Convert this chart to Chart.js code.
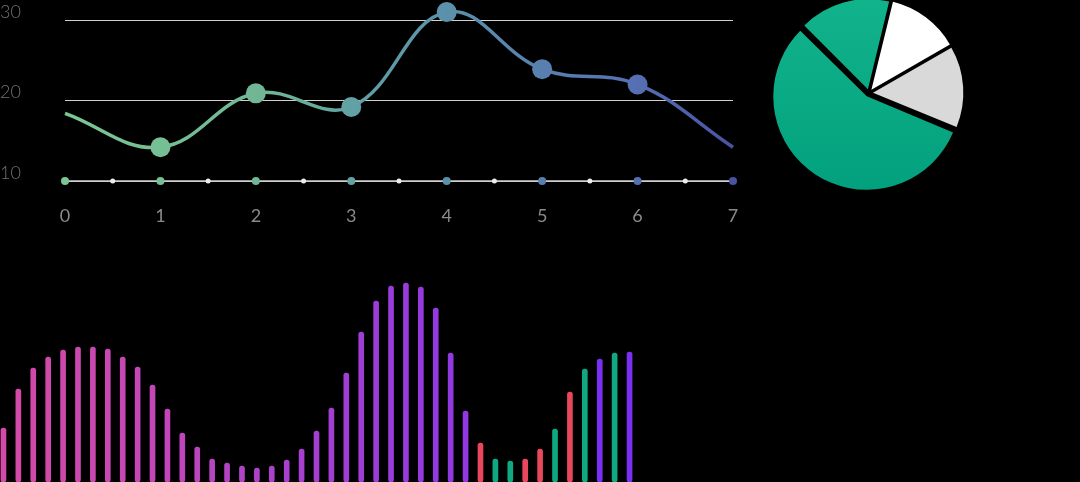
<!DOCTYPE html>
<html><head><meta charset="utf-8">
<script src="https://cdn.jsdelivr.net/npm/chart.js@4.4.1/dist/chart.umd.min.js"></script>
<style>
html,body{margin:0;padding:0;background:#000;width:1080px;height:482px;overflow:hidden;}
.box{position:absolute;}
</style></head><body>
<div class="box" style="left:0;top:0;width:760px;height:240px"><canvas id="line"></canvas></div>
<div class="box" style="left:758.5px;top:-11.8px;width:220px;height:210px"><canvas id="pie"></canvas></div>
<div class="box" style="left:-4.45px;top:270px;width:641px;height:212px"><canvas id="bars"></canvas></div>
<script>
// ---- line chart data ----
const lineX = [0, 1, 2, 3, 4, 5, 6, 7];
const lineValues = [18.4, 14.2, 20.9, 19.2, 31.0, 23.9, 22.0, 14.2];
const baseX = [0, 0.5, 1, 1.5, 2, 2.5, 3, 3.5, 4, 4.5, 5, 5.5, 6, 6.5, 7];
const baseValues = [10, 10, 10, 10, 10, 10, 10, 10, 10, 10, 10, 10, 10, 10, 10];
const yTickValues = [10, 20, 30];
const xTickLabels = ['0', '1', '2', '3', '4', '5', '6', '7'];

// ---- pie data ----
const pieLabels = ['A', 'B', 'C', 'D'];
const pieValues = [16.3, 12.9, 14.5, 56.3];

// ---- bar data ----
const barLabels = ['1','2','3','4','5','6','7','8','9','10','11','12','13','14','15','16','17','18','19','20','21','22','23','24','25','26','27','28','29','30','31','32','33','34','35','36','37','38','39','40','41','42','43'];
const barValues = [54, 93, 114, 125, 132, 135, 135, 133, 125, 115, 97, 73, 49, 35, 23, 19, 16, 14, 16, 22, 33, 51, 74, 109, 150, 181, 196, 199, 195, 174, 129, 71, 39, 23, 21, 23, 33, 53, 90, 113, 123, 129, 130];
const barGroups = ['g','g','g','g','g','g','g','g','g','g','g','g','g','g','g','g','g','g','g','g','g','g','g','g','g','g','g','g','g','g','g','g','red','green','green','red','red','green','red','green','violet','green','violet'];

// ---- styles ----
const accent = {red: '#e8475c', green: '#0fa881', violet: '#7a30f2'};

function lineGrad(ctx) {
  const ch = ctx.chart, a = ch.chartArea;
  if (!a) return '#6fb497';
  const g = ch.ctx.createLinearGradient(a.left, 0, a.right, 0);
  g.addColorStop(0, '#7cc693');
  g.addColorStop(0.3, '#70b696');
  g.addColorStop(0.45, '#609ea6');
  g.addColorStop(0.6, '#5a8dab');
  g.addColorStop(0.85, '#5670b3');
  g.addColorStop(1, '#4a52a3');
  return g;
}

new Chart(document.getElementById('line'), {
  type: 'line',
  data: {
    datasets: [
      {
        data: lineX.map((x, i) => ({x: x, y: lineValues[i]})),
        borderColor: lineGrad,
        borderWidth: 3.5,
        tension: 0.4,
        pointRadius: c => (c.dataIndex === 0 || c.dataIndex === lineX.length - 1) ? 0 : 10,
        pointBackgroundColor: lineGrad,
        pointBorderWidth: 0,
        clip: false
      },
      {
        data: baseX.map((x, i) => ({x: x, y: baseValues[i]})),
        borderColor: '#cfcfcf',
        borderWidth: 1.5,
        pointRadius: c => Number.isInteger(baseX[c.dataIndex]) ? 4 : 2.5,
        pointBackgroundColor: c => Number.isInteger(baseX[c.dataIndex]) ? lineGrad(c) : '#ececec',
        pointBorderWidth: 0,
        clip: false
      }
    ]
  },
  options: {
    responsive: true, maintainAspectRatio: false, animation: false,
    layout: {autoPadding: false, padding: {left: 0, right: 27, top: 0, bottom: 0}},
    plugins: {legend: {display: false}, tooltip: {enabled: false}},
    scales: {
      x: {
        type: 'linear', min: 0, max: 7,
        afterBuildTicks: s => { s.ticks = lineX.map(v => ({value: v})); },
        ticks: {color: '#8a8a8a', font: {family: 'Lato', size: 18}, padding: 16,
                callback: (v, i) => xTickLabels[i]},
        grid: {display: false}, border: {display: false},
        afterFit: s => { s.height = 59; s.paddingLeft = 0; s.paddingRight = 0; }
      },
      y: {
        min: 10, max: 32.5,
        afterBuildTicks: s => { s.ticks = yTickValues.map(v => ({value: v})); },
        ticks: {color: '#727272', font: {family: 'Lato', size: 18, weight: '300'},
                crossAlign: 'far', labelOffset: -8, padding: 0},
        grid: {color: '#d0d0d0', lineWidth: 1, drawTicks: false},
        border: {display: false},
        afterFit: s => { s.width = 65; s.paddingTop = 0; s.paddingBottom = 0; }
      }
    }
  }
});

function pieColor(c) {
  const ch = c.chart, a = ch.chartArea;
  const i = c.dataIndex;
  if (i === 1) return '#ffffff';
  if (i === 2) return '#d9d9d9';
  if (!a) return '#0aab85';
  const g = ch.ctx.createLinearGradient(0, a.top, 0, a.bottom);
  g.addColorStop(0, '#12b48c');
  g.addColorStop(1, '#02a07d');
  return g;
}

new Chart(document.getElementById('pie'), {
  type: 'pie',
  data: {labels: pieLabels, datasets: [{data: pieValues, backgroundColor: pieColor, borderWidth: 0, offset: 16}]},
  options: {
    responsive: true, maintainAspectRatio: false, animation: false,
    rotation: -45,
    layout: {padding: 7.5},
    plugins: {legend: {display: false}, tooltip: {enabled: false}}
  }
});

function barColor(c) {
  const i = c.dataIndex;
  const grp = barGroups[i];
  if (grp !== 'g') return accent[grp];
  const ch = c.chart, a = ch.chartArea;
  if (!a) return '#b544c0';
  const w = (a.right - a.left) / barLabels.length;
  const g = ch.ctx.createLinearGradient(a.left + w * 0.5, 0, a.left + w * 31.5, 0);
  g.addColorStop(0, '#d44aa6');
  g.addColorStop(0.35, '#c246b9');
  g.addColorStop(0.55, '#ad42c9');
  g.addColorStop(0.8, '#9c3dd8');
  g.addColorStop(1, '#9138e2');
  return g;
}

new Chart(document.getElementById('bars'), {
  type: 'bar',
  data: {labels: barLabels, datasets: [{data: barValues, backgroundColor: barColor, barThickness: 5, borderRadius: 3, borderSkipped: false}]},
  options: {
    responsive: true, maintainAspectRatio: false, animation: false,
    layout: {padding: 0},
    plugins: {legend: {display: false}, tooltip: {enabled: false}},
    scales: {x: {display: false}, y: {display: false, min: 0, max: 212}}
  }
});
</script>
</body></html>
